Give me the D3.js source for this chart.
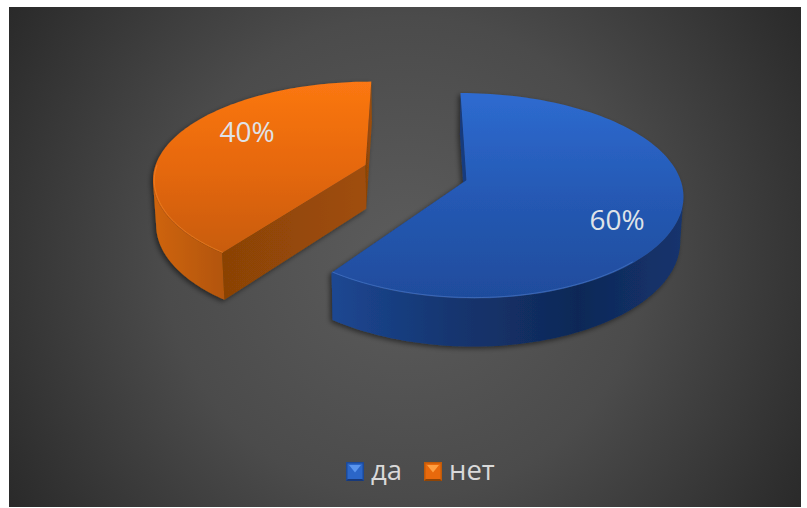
<!DOCTYPE html>
<html><head><meta charset="utf-8">
<script src="https://cdn.jsdelivr.net/npm/d3@7"></script>
<style>html,body{margin:0;padding:0;background:#fff}svg{display:block}text{font-family:"Open Sans",sans-serif}</style>
</head><body><svg id="c" width="807" height="508"></svg>
<script>
const categories = ["да", "нет"];
const values = [60, 40];
const labels = ["60%", "40%"];

const svg = d3.select("#c");
const defs = svg.append("defs");
const cfg = {x0:415.5, y0:172.5, sx:212, sy:98, px:0.13, py:0.15, pd:0.08, explode:0.25, depth:44, start:0, taper:0.012};

function grad(id, stops, o){
  const g = defs.append(o.radial?"radialGradient":"linearGradient").attr("id",id);
  Object.entries(o).forEach(([k,v])=>{ if(k!=="radial") g.attr(k,v); });
  stops.forEach(([of,c])=>g.append("stop").attr("offset",of).attr("stop-color",c));
}
grad("bg",[[0,"#5c5c5c"],[0.5,"#4b4b4b"],[1,"#282828"]],{radial:true,gradientUnits:"userSpaceOnUse",cx:405,cy:257,r:480});
grad("topB",[[0,"#2e6bd0"],[0.5,"#2559b4"],[1,"#1f4c9c"]],{x1:0,y1:0,x2:0,y2:1});
grad("topO",[[0,"#fb7712"],[0.5,"#e6680c"],[1,"#c85c08"]],{x1:0,y1:0,x2:0,y2:1});
grad("sideB",[[0,"#1c4792"],[0.35,"#15356f"],[0.7,"#0f2857"],[1,"#14346e"]],{x1:0,y1:0,x2:1,y2:0});
grad("sideO",[[0,"#cf6409"],[1,"#b25507"]],{x1:0,y1:0,x2:1,y2:0});
grad("cutO",[[0,"#8a4206"],[1,"#a04e08"]],{x1:0,y1:0,x2:1,y2:0});
grad("cutB",[[0,"#163a7e"],[1,"#163a7e"]],{x1:0,y1:0,x2:1,y2:0});
const f = defs.append("filter").attr("id","sh").attr("x","-10%").attr("y","-10%").attr("width","125%").attr("height","125%");
f.append("feDropShadow").attr("dx",-2).attr("dy",2).attr("stdDeviation",2.5).attr("flood-color","#000").attr("flood-opacity",0.5);

svg.append("rect").attr("x",9).attr("y",7).attr("width",792).attr("height",500).attr("fill","url(#bg)");

const pie = d3.pie().sort(null).startAngle(cfg.start).endAngle(cfg.start+2*Math.PI);
const arcs = pie(values);
const styles = [
  {top:"url(#topB)",side:"url(#sideB)",cut:"url(#cutB)",edge:"#6f9ae6"},
  {top:"url(#topO)",side:"url(#sideO)",cut:"url(#cutO)",edge:"#ffa04d"}
];
function project(X,Y,z){
  const k = z ? 1-cfg.taper : 1;
  return [cfg.x0 + k*cfg.sx*X/(1-cfg.px*Y), cfg.y0 + cfg.sy*Y/(1-cfg.py*Y) + (z?cfg.depth/(1-cfg.pd*Y):0)];
}
const line = d3.line();
[1,0].forEach(i=>{
  const a = arcs[i], st = styles[i];
  const mid=(a.startAngle+a.endAngle)/2;
  const ox=cfg.explode*Math.sin(mid), oy=-cfg.explode*Math.cos(mid);
  const pt=(t,r,z)=>project(ox+r*Math.sin(t),oy-r*Math.cos(t),z);
  const ts=d3.range(0,121).map(k=>a.startAngle+(a.endAngle-a.startAngle)*k/120);
  const g=svg.append("g").attr("filter","url(#sh)");
  const face=(t)=>[pt(t,0,false),pt(t,1,false),pt(t,1,true),pt(t,0,true)];
  g.append("path").attr("d",line(face(a.startAngle))+"Z").attr("fill",st.cut);
  g.append("path").attr("d",line(face(a.endAngle))+"Z").attr("fill",st.cut);
  // the outer wall is only visible between the rim's horizontal extreme and the front end of the slice
  const xs=ts.map(t=>pt(t,1,false)[0]);
  const vis = i===0 ? ts.slice(d3.maxIndex(xs)) : ts.slice(0,d3.minIndex(xs)+1);
  const rib=vis.map(t=>pt(t,1,false)).concat(vis.slice().reverse().map(t=>pt(t,1,true)));
  g.append("path").attr("d",line(rib)+"Z").attr("fill",st.side);
  const top=[pt(a.startAngle,0,false)].concat(ts.map(t=>pt(t,1,false)));
  g.append("path").attr("d",line(top)+"Z").attr("fill",st.top);
  const front=ts.filter(t=>Math.cos(t)<0 && Math.sin(t)<0.7);
  g.append("path").attr("d",line(front.map(t=>pt(t,0.994,false)))).attr("fill","none").attr("stroke",st.edge).attr("stroke-width",1).attr("stroke-opacity",0.35);
});

const labelPos=[[617,230],[247,142]];
labels.forEach((t,i)=>svg.append("text").attr("x",labelPos[i][0]).attr("y",labelPos[i][1]).attr("text-anchor","middle").attr("font-size",28).attr("fill","#dfe3e8").text(t));

const legendX=[346,424];
const shades=[["#2b66c8","#5b96ee","#1d4a98","#17397a"],["#e8690c","#ffa042","#c05a08","#8e4406"]];
categories.forEach((c,i)=>{
  const x=legendX[i],y=462,w=18,h=19,s=shades[i];
  const g=svg.append("g");
  g.append("rect").attr("x",x).attr("y",y).attr("width",w).attr("height",h).attr("fill",s[2]);
  g.append("rect").attr("x",x+1.5).attr("y",y+1.5).attr("width",w-3).attr("height",h-3).attr("fill",s[0]);
  g.append("path").attr("d",line([[x+3,y+3],[x+w-3,y+3],[x+w/2,y+h*0.55]])+"Z").attr("fill",s[1]);
  g.append("path").attr("d",line([[x,y+h],[x+w,y+h],[x+w-2,y+h-2],[x+2,y+h-2]])+"Z").attr("fill",s[3]);
  svg.append("text").attr("x",x+25).attr("y",480).attr("font-size",27.5).attr("fill","#d9d9d9").text(c);
});
</script></body></html>
